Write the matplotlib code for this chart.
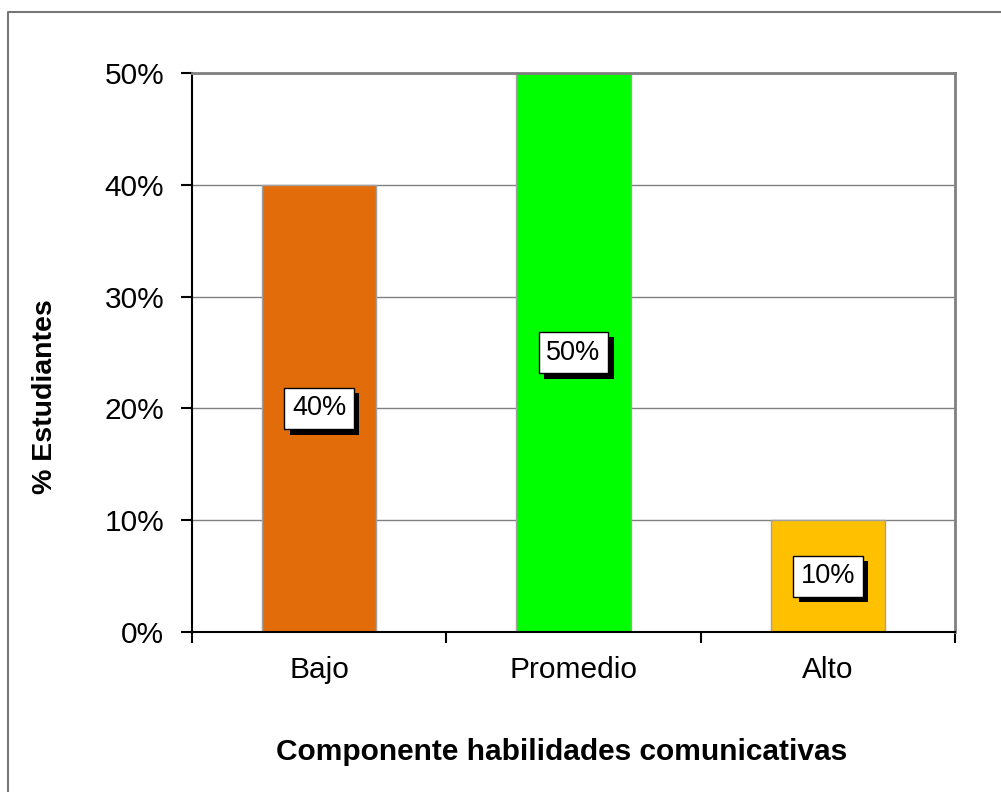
import matplotlib.pyplot as plt
import matplotlib.patheffects as pe
from matplotlib.lines import Line2D
from matplotlib.ticker import FixedLocator, PercentFormatter

categories = ['Bajo', 'Promedio', 'Alto']
values = [40, 50, 10]
colors = ['#E36C0A', '#00FF00', '#FFC000']
yticks = [0, 10, 20, 30, 40, 50]

plt.rcParams['font.family'] = ['Liberation Sans', 'DejaVu Sans']


def main():
    fig = plt.figure(figsize=(10.01, 7.92), dpi=100)
    ax = fig.add_axes([192 / 1001, 160 / 792, 763 / 1001, 559 / 792])

    x = list(range(len(categories)))
    ax.bar(x, values, width=0.45, color=colors, edgecolor='#A0A0A0',
           linewidth=1, zorder=2)

    ax.set_xlim(-0.5, len(categories) - 0.5)
    ax.set_ylim(0, 50)
    ax.set_yticks(yticks)
    ax.yaxis.set_major_formatter(PercentFormatter(decimals=0))
    ax.grid(axis='y', color='#808080', linewidth=1, zorder=1)

    # ticks on category borders, labels at centers
    ax.xaxis.set_major_locator(FixedLocator([i - 0.5 for i in range(len(categories) + 1)]))
    ax.xaxis.set_minor_locator(FixedLocator(x))
    ax.set_xticklabels([])
    ax.set_xticklabels(categories, minor=True)
    ax.tick_params(axis='x', which='minor', length=0, labelsize=21.5, pad=17)
    ax.tick_params(axis='x', which='major', length=8, width=1.5, direction='out')
    ax.tick_params(axis='y', length=8, width=1.5, labelsize=21.5, pad=12)

    for side in ['top', 'right']:
        ax.spines[side].set_color('#808080')
        ax.spines[side].set_linewidth(2)
    for side in ['left', 'bottom']:
        ax.spines[side].set_color('black')
        ax.spines[side].set_linewidth(1.5)

    # value labels with shadowed box
    for xi, v in zip(x, values):
        ax.text(xi, v / 2, f'{v}%', ha='center', va='center', fontsize=19.5,
                zorder=4,
                bbox=dict(boxstyle='square,pad=0.28', facecolor='white',
                          edgecolor='black', linewidth=1,
                          path_effects=[pe.SimplePatchShadow(offset=(4, -4),
                                                             shadow_rgbFace='black',
                                                             alpha=1.0),
                                        pe.Normal()]))

    fig.text(45 / 1001, 1 - 397 / 792, '% Estudiantes', rotation=90,
             ha='center', va='center', fontsize=20.5, fontweight='bold')
    fig.text(562 / 1001, 1 - 752 / 792, 'Componente habilidades comunicativas',
             ha='center', va='center', fontsize=21.5, fontweight='bold')

    # outer frame (top and left edges visible)
    fig.add_artist(Line2D([8 / 1001, 8 / 1001, 1.0], [0.0, 1 - 12 / 792, 1 - 12 / 792],
                          transform=fig.transFigure, color='#777777', linewidth=1.5))

    fig.savefig('out.png', dpi=100)
    plt.close(fig)


if __name__ == '__main__':
    main()
